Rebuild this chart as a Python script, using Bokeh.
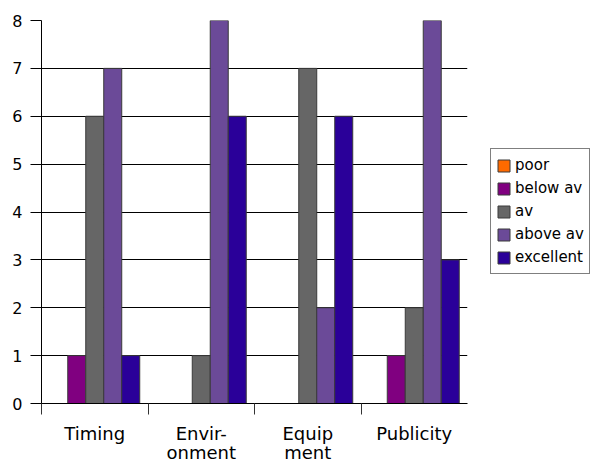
from bokeh.plotting import figure
from bokeh.models import Range1d, FixedTicker, Legend, LegendItem
from bokeh.embed import file_html
from bokeh.resources import INLINE

categories = ["Timing", "Envir-\nonment", "Equip\nment", "Publicity"]
series = ["poor", "below av", "av", "above av", "excellent"]
poor = [0, 0, 0, 0]
below_av = [1, 0, 0, 1]
av = [6, 1, 7, 2]
above_av = [7, 8, 2, 8]
excellent = [1, 6, 6, 3]
colors = ["#ff6a00", "#800080", "#666666", "#6b4a98", "#2a0099"]
y_ticks = [0, 1, 2, 3, 4, 5, 6, 7, 8]

values = [poor, below_av, av, above_av, excellent]
n = len(categories)

FONT = "DejaVu Sans"

p = figure(frame_width=426, frame_height=383, output_backend="svg", toolbar_location=None,
           x_range=Range1d(0, n), y_range=Range1d(0, 8),
           min_border_left=41, min_border_right=124, min_border_top=20, min_border_bottom=62)
p.outline_line_color = None
p.background_fill_color = "white"
p.border_fill_color = "white"

bar_w = 0.169
items = []
for k, (name, vals, col) in enumerate(zip(series, values, colors)):
    xs = [i + 0.5 + (k - 2) * bar_w for i in range(n)]
    r = p.vbar(x=xs, top=vals, bottom=0, width=bar_w, fill_color=col, line_color="#3a3a3a", line_width=1)
    items.append(LegendItem(label=name, renderers=[r]))

# axes
p.xgrid.visible = False
p.ygrid.grid_line_color = "black"
p.ygrid.grid_line_width = 1
p.ygrid.ticker = FixedTicker(ticks=y_ticks)

p.yaxis.ticker = FixedTicker(ticks=y_ticks)
p.yaxis.axis_line_color = "black"
p.yaxis.major_tick_line_color = "black"
p.yaxis.major_tick_out = 11
p.yaxis.major_tick_in = 0
p.yaxis.minor_tick_line_color = None
p.yaxis.major_label_standoff = 8
p.yaxis.major_label_text_font = FONT
p.yaxis.major_label_text_font_size = "16px"
p.yaxis.major_label_text_color = "black"

centers = [i + 0.5 for i in range(n)]
p.xaxis.ticker = FixedTicker(ticks=centers, minor_ticks=list(range(n)))
p.xaxis.major_label_overrides = {c: lab for c, lab in zip(centers, categories)}
p.xaxis.axis_line_color = "black"
p.xaxis.major_tick_line_color = None
p.xaxis.major_tick_out = 0
p.xaxis.major_tick_in = 0
p.xaxis.minor_tick_line_color = "#333333"
p.xaxis.minor_tick_out = 11
p.xaxis.minor_tick_in = 0
p.xaxis.major_label_standoff = 8
p.xaxis.major_label_text_font = FONT
p.xaxis.major_label_text_font_size = "18px"
p.xaxis.major_label_text_line_height = 0.95
p.xaxis.major_label_text_color = "black"

legend = Legend(items=items, location=(23, 129))
legend.border_line_color = "black"
legend.border_line_width = 1
legend.background_fill_color = "white"
legend.background_fill_alpha = 1
legend.label_text_font = FONT
legend.label_text_font_size = "15px"
legend.label_text_color = "black"
legend.glyph_width = 15
legend.glyph_height = 15
legend.label_height = 22
legend.label_standoff = 4
legend.spacing = 1
legend.padding = 5
legend.margin = 0
p.add_layout(legend, "right")

open("out.html", "w").write(file_html(p, INLINE))
